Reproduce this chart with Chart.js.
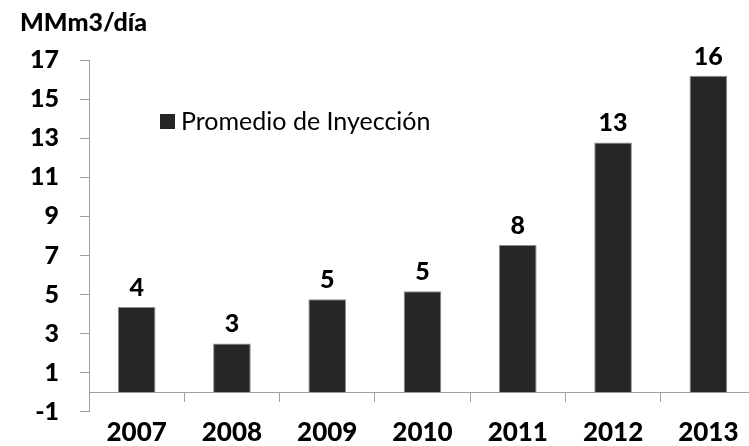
<!DOCTYPE html>
<html>
<head>
<meta charset="utf-8">
<script src="https://cdn.jsdelivr.net/npm/chart.js@4.4.1/dist/chart.umd.min.js"></script>
<style>
html, body { margin: 0; padding: 0; background: #fff; overflow: hidden; }
#wrap { width: 760px; height: 453px; }
</style>
</head>
<body>
<div id="wrap"><canvas id="chart"></canvas></div>
<script>
const years = ["2007", "2008", "2009", "2010", "2011", "2012", "2013"];
const injection = [4.36, 2.5, 4.76, 5.17, 7.54, 12.78, 16.2];
const injectionLabels = ["4", "3", "5", "5", "8", "13", "16"];
const seriesName = "Promedio de Inyección";
const unitTitle = "MMm3/día";

Chart.defaults.font.family = "Lato, 'DejaVu Sans', sans-serif";
Chart.defaults.color = "#000";

/* value labels above each bar */
const barLabels = {
    id: "barLabels",
    afterDatasetsDraw(chart) {
        const ctx = chart.ctx;
        const meta = chart.getDatasetMeta(0);
        ctx.save();
        ctx.font = "900 25px Lato";
        ctx.fillStyle = "#000";
        ctx.textAlign = "center";
        ctx.textBaseline = "alphabetic";
        meta.data.forEach((bar, i) => {
            ctx.fillText(injectionLabels[i], bar.x, bar.y - 11);
        });
        ctx.restore();
    }
};

/* legend sitting inside the plot */
const boxLegend = {
    id: "boxLegend",
    afterDraw(chart) {
        const ctx = chart.ctx;
        const area = chart.chartArea;
        const ds = chart.data.datasets[0];
        const x = area.left + 71, y = area.top + 54;
        ctx.save();
        ctx.fillStyle = ds.backgroundColor;
        ctx.fillRect(x, y, 15, 15);
        ctx.font = "25px Lato";
        ctx.fillStyle = "#000";
        ctx.textBaseline = "middle";
        ctx.fillText(ds.label, x + 21, y + 8);
        ctx.restore();
    }
};

const ctx = document.getElementById("chart").getContext("2d");
new Chart(ctx, {
    type: "bar",
    data: {
        labels: years,
        datasets: [{
            label: seriesName,
            data: injection,
            backgroundColor: "#262626",
            borderColor: "#8c8c8c",
            borderWidth: 1,
            barPercentage: 0.395,
            categoryPercentage: 1
        }]
    },
    options: {
        responsive: true,
        maintainAspectRatio: false,
        animation: false,
        layout: { padding: { left: 20, right: 4, top: 0, bottom: 0 } },
        plugins: {
            legend: { display: false },
            tooltip: { enabled: false },
            title: {
                display: true,
                text: unitTitle,
                align: "start",
                color: "#000",
                font: { size: 25, weight: 900 },
                padding: { top: 8, bottom: 22 }
            }
        },
        scales: {
            x: {
                position: { y: 0 },
                offset: true,
                grid: { display: true, offset: true, drawOnChartArea: false, drawTicks: true, tickLength: 9, color: "#a0a0a0" },
                border: { display: true, color: "#a0a0a0", width: 1 },
                ticks: { display: false }
            },
            xl: {
                type: "category",
                labels: years,
                position: "bottom",
                offset: true,
                grid: { display: false, drawTicks: false },
                border: { display: false },
                ticks: { padding: 5, font: { size: 26, weight: 900 }, color: "#000", maxRotation: 0 }
            },
            y: {
                min: -1,
                max: 17,
                grid: { drawOnChartArea: false, drawTicks: true, tickLength: 9, color: "#a0a0a0" },
                border: { display: true, color: "#a0a0a0", width: 1 },
                ticks: { stepSize: 2, padding: 21, font: { size: 25, weight: 900 }, color: "#000" },
                afterFit(scale) { scale.width = 69; }
            }
        }
    },
    plugins: [barLabels, boxLegend]
});
</script>
</body>
</html>
